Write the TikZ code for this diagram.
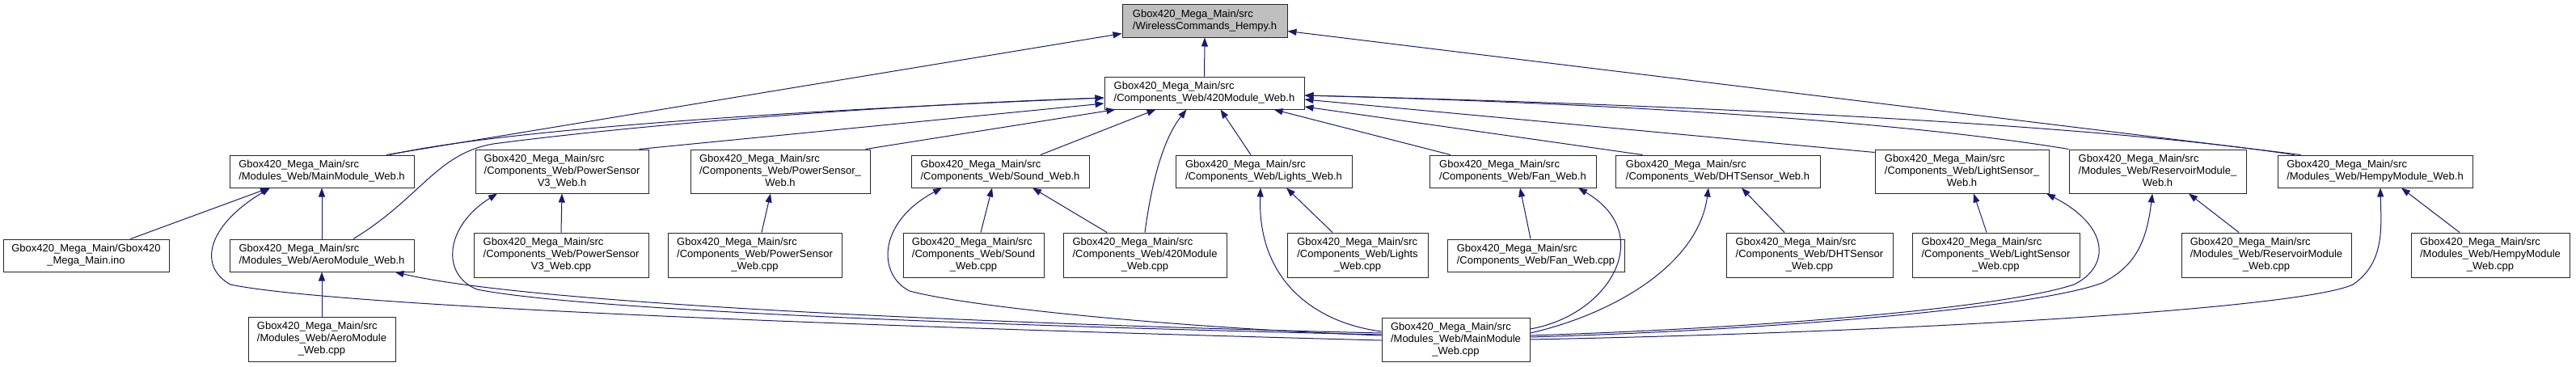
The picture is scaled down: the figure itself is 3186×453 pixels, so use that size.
\documentclass[tikz,border=0pt]{standalone}
\usepackage{fontspec}
\setmainfont{Liberation Sans}
\usepackage{xcolor}
\usepackage{tikz}
\usetikzlibrary{arrows.meta}
\definecolor{edgeblue}{RGB}{25,25,112}
\definecolor{nodegrey}{RGB}{191,191,191}
\newcommand{\srcdir}{Gbox420\_Mega\_Main/src}
\newcommand{\twolbl}[2]{\begin{tabular}{@{}l@{}}#1\\\multicolumn{1}{@{}c@{}}{#2}\end{tabular}}
\newcommand{\threelbl}[3]{\begin{tabular}{@{}l@{}}#1\\#2\\\multicolumn{1}{@{}c@{}}{#3}\end{tabular}}

\begin{document}
\begin{tikzpicture}[x=1pt, y=-1pt,
    box/.style={rectangle, draw=black!85, line width=1pt, fill=white, inner sep=0pt,
                font=\fontsize{13}{15}\selectfont},
    wh/.style 2 args={minimum width=#1pt, minimum height=#2pt},
    arr/.style={-{Triangle[length=11pt,width=8pt]}, line width=1pt, edgeblue}
  ]
    \useasboundingbox (0,0) rectangle (3186,453);
    % top rows
    \node[box, fill=nodegrey, wh={204}{41}] (wch) at (1490,25.5) {\twolbl{\srcdir}{/WirelessCommands\_Hempy.h}};
    \node[box, wh={247}{40}] (comp420h) at (1489.5,115) {\twolbl{\srcdir}{/Components\_Web/420Module\_Web.h}};
    \node[box, wh={228}{40}] (mainh)   at (398,212)    {\twolbl{\srcdir}{/Modules\_Web/MainModule\_Web.h}};
    \node[box, wh={214}{54}] (psv3h)   at (695,212)    {\threelbl{\srcdir}{/Components\_Web/PowerSensor}{V3\_Web.h}};
    \node[box, wh={222}{54}] (psh)     at (965,212)    {\threelbl{\srcdir}{/Components\_Web/PowerSensor\_}{Web.h}};
    \node[box, wh={220}{40}] (soundh)  at (1237,212)   {\twolbl{\srcdir}{/Components\_Web/Sound\_Web.h}};
    \node[box, wh={218}{40}] (lightsh) at (1563,212)   {\twolbl{\srcdir}{/Components\_Web/Lights\_Web.h}};
    \node[box, wh={206}{40}] (fanh)    at (1871,212)   {\twolbl{\srcdir}{/Components\_Web/Fan\_Web.h}};
    \node[box, wh={253}{40}] (dhth)    at (2124.5,212) {\twolbl{\srcdir}{/Components\_Web/DHTSensor\_Web.h}};
    \node[box, wh={215}{54}] (lsensh)  at (2426.5,212) {\threelbl{\srcdir}{/Components\_Web/LightSensor\_}{Web.h}};
    \node[box, wh={219}{54}] (resh)    at (2668.5,212) {\threelbl{\srcdir}{/Modules\_Web/ReservoirModule\_}{Web.h}};
    \node[box, wh={241}{40}] (hempyh)  at (2937.5,212) {\twolbl{\srcdir}{/Modules\_Web/HempyModule\_Web.h}};
    % lower rows
    \node[box, wh={205}{40}] (ino)        at (106.5,316)  {\twolbl{Gbox420\_Mega\_Main/Gbox420}{\_Mega\_Main.ino}};
    \node[box, wh={228}{40}] (aeroh)      at (398,316)    {\twolbl{\srcdir}{/Modules\_Web/AeroModule\_Web.h}};
    \node[box, wh={216}{55}] (psv3cpp)    at (694,315.5)  {\threelbl{\srcdir}{/Components\_Web/PowerSensor}{V3\_Web.cpp}};
    \node[box, wh={215}{55}] (pscpp)      at (933.5,315.5){\threelbl{\srcdir}{/Components\_Web/PowerSensor}{\_Web.cpp}};
    \node[box, wh={174}{55}] (soundcpp)   at (1204,315.5) {\threelbl{\srcdir}{/Components\_Web/Sound}{\_Web.cpp}};
    \node[box, wh={202}{55}] (comp420cpp) at (1416,315.5) {\threelbl{\srcdir}{/Components\_Web/420Module}{\_Web.cpp}};
    \node[box, wh={174}{55}] (lightscpp)  at (1679,315.5) {\threelbl{\srcdir}{/Components\_Web/Lights}{\_Web.cpp}};
    \node[box, wh={219}{40}] (fancpp)     at (1899.5,316) {\twolbl{\srcdir}{/Components\_Web/Fan\_Web.cpp}};
    \node[box, wh={206}{55}] (dhtcpp)     at (2238,315.5) {\threelbl{\srcdir}{/Components\_Web/DHTSensor}{\_Web.cpp}};
    \node[box, wh={207}{55}] (lsenscpp)   at (2468.5,315.5){\threelbl{\srcdir}{/Components\_Web/LightSensor}{\_Web.cpp}};
    \node[box, wh={210}{55}] (rescpp)     at (2803,315.5) {\threelbl{\srcdir}{/Modules\_Web/ReservoirModule}{\_Web.cpp}};
    \node[box, wh={196}{55}] (hempycpp)   at (3080,315.5) {\threelbl{\srcdir}{/Modules\_Web/HempyModule}{\_Web.cpp}};
    \node[box, wh={182}{55}] (aerocpp)    at (398,419.5)  {\threelbl{\srcdir}{/Modules\_Web/AeroModule}{\_Web.cpp}};
    \node[box, wh={183}{54}] (maincpp)    at (1800.5,420) {\threelbl{\srcdir}{/Modules\_Web/MainModule}{\_Web.cpp}};
    % includes of the top header
    \draw[arr] (comp420h.north) -- (wch.south);
    \draw[arr] ([xshift=80pt]mainh.north) -- ([yshift=5pt]wch.south west);
    \draw[arr] ([xshift=-92pt]hempyh.north) -- ([yshift=8pt]wch.south east);
    % includes of 420Module_Web.h
    \draw[arr] ([xshift=84pt]mainh.north) .. controls (600,165) and (900,140) .. ([yshift=-6pt]comp420h.west);
    \draw[arr] ([xshift=39pt]aeroh.north) .. controls (520,245) and (540,190) .. (610,178)
               .. controls (800,153) and (1100,130) .. ([yshift=-6pt]comp420h.west);
    \draw[arr] ([xshift=-12pt]psv3h.north east) -- ([yshift=-13pt]comp420h.west);
    \draw[arr] ([xshift=-6pt]psh.north east) -- ([xshift=14pt]comp420h.south west);
    \draw[arr] ([xshift=50pt]soundh.north) -- ([xshift=-60pt]comp420h.south);
    \draw[arr] (comp420cpp.north) .. controls (1425,220) and (1440,170) .. ([xshift=-22pt]comp420h.south);
    \draw[arr] ([xshift=-16pt]lightsh.north) -- ([xshift=20pt]comp420h.south);
    \draw[arr] ([xshift=-77pt]fanh.north) -- ([xshift=-38pt]comp420h.south east);
    \draw[arr] ([xshift=-93pt]dhth.north) -- ([yshift=-17pt]comp420h.east);
    \draw[arr] ([yshift=-4pt]lsensh.north west) -- ([yshift=-8pt]comp420h.east);
    \draw[arr] (resh.north west) .. controls (2350,150) and (2000,128) .. ([yshift=-3pt]comp420h.east);
    \draw[arr] ([xshift=-100pt]hempyh.north) .. controls (2600,155) and (2100,130) .. ([yshift=-3pt]comp420h.east);
    % straight includes
    \draw[arr] ([xshift=55pt]ino.north) -- ([xshift=-65pt]mainh.south);
    \draw[arr] (aeroh.north) -- (mainh.south);
    \draw[arr] (aerocpp.north) -- (aeroh.south);
    \draw[arr] (psv3cpp.north) -- (psv3h.south);
    \draw[arr] ([xshift=8.5pt]pscpp.north) -- ([xshift=-12pt]psh.south);
    \draw[arr] ([xshift=9pt]soundcpp.north) -- ([xshift=-10pt]soundh.south);
    \draw[arr] ([xshift=-47pt]comp420cpp.north) -- ([xshift=40pt]soundh.south);
    \draw[arr] ([xshift=-31pt]lightscpp.north) -- ([xshift=28pt]lightsh.south);
    \draw[arr] ([xshift=-6.5pt]fancpp.north) -- ([xshift=9pt]fanh.south);
    \draw[arr] ([xshift=-31pt]dhtcpp.north) -- ([xshift=29.5pt]dhth.south);
    \draw[arr] ([xshift=-11.5pt]lsenscpp.north) -- ([xshift=14.5pt]lsensh.south);
    \draw[arr] ([xshift=-34pt]rescpp.north) -- ([xshift=38.5pt]resh.south);
    \draw[arr] ([xshift=-38pt]hempycpp.north) -- ([xshift=32.5pt]hempyh.south);
    % MainModule_Web.cpp, left side
    \draw[arr] ([yshift=-1pt]maincpp.west) .. controls (1100,405) and (420,380) .. (285,352)
               .. controls (245,330) and (255,280) .. ([xshift=-64pt]mainh.south);
    \draw[arr] ([yshift=8pt]maincpp.west) .. controls (1200,400) and (650,375) .. ([xshift=-24pt]aeroh.south east);
    \draw[arr] ([yshift=6pt]maincpp.west) .. controls (1100,400) and (700,380) .. (590,358)
               .. controls (545,340) and (550,280) .. ([xshift=-80pt]psv3h.south);
    \draw[arr] ([yshift=5pt]maincpp.west) .. controls (1450,405) and (1200,380) .. (1125,360)
               .. controls (1085,340) and (1085,275) .. ([xshift=-72pt]soundh.south);
    \draw[arr] ([yshift=10pt]maincpp.west) .. controls (1630,400) and (1555,350) .. ([xshift=-4pt]lightsh.south);
    % MainModule_Web.cpp, right side
    \draw[arr] ([yshift=13pt]maincpp.east) .. controls (1990,390) and (2050,290) .. ([xshift=81pt]fanh.south);
    \draw[arr] ([yshift=8pt]maincpp.east) .. controls (1990,390) and (2100,330) .. ([xshift=-11.5pt]dhth.south);
    \draw[arr] ([yshift=5pt]maincpp.east) .. controls (2200,405) and (2480,380) .. (2565,352)
               .. controls (2610,330) and (2610,280) .. ([xshift=104.5pt]lsensh.south);
    \draw[arr] ([yshift=3pt]maincpp.east) .. controls (2200,408) and (2520,380) .. (2600,350)
               .. controls (2640,330) and (2655,300) .. ([xshift=-6.5pt]resh.south);
    \draw[arr] (maincpp.east) .. controls (2400,410) and (2850,380) .. (2910,352)
               .. controls (2950,325) and (2945,280) .. ([xshift=6.5pt]hempyh.south);
\end{tikzpicture}
\end{document}
